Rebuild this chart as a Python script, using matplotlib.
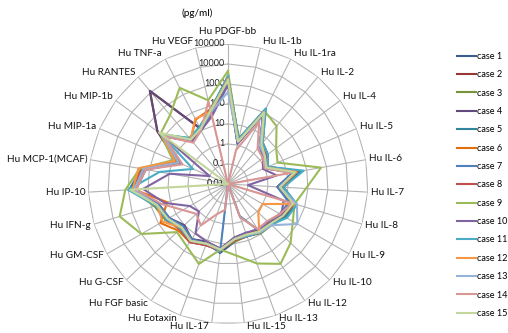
import numpy as np
import matplotlib
matplotlib.use("Agg")
import matplotlib.pyplot as plt
from matplotlib.lines import Line2D
from matplotlib.transforms import offset_copy

plt.rcParams["font.family"] = ["Lato", "DejaVu Sans"]

# ---------------------------------------------------------------
# data (pg/ml)
# ---------------------------------------------------------------
categories = ["Hu PDGF-bb", "Hu IL-1b", "Hu IL-1ra", "Hu IL-2", "Hu IL-4", "Hu IL-5",
              "Hu IL-6", "Hu IL-7", "Hu IL-8", "Hu IL-9", "Hu IL-10", "Hu IL-12",
              "Hu IL-13", "Hu IL-15", "Hu IL-17", "Hu Eotaxin", "Hu FGF basic",
              "Hu G-CSF", "Hu GM-CSF", "Hu IFN-g", "Hu IP-10", "Hu MCP-1(MCAF)",
              "Hu MIP-1a", "Hu MIP-1b", "Hu RANTES", "Hu TNF-a", "Hu VEGF"]

radial_ticks = [0.01, 0.1, 1, 10, 100, 1000, 10000, 100000]
radial_labels = ["0.01", "0.1", "1", "10", "100", "1000", "10000", "100000"]

case_1 = [1800, 1.8, 90, 3, 2, 1, 20, 3, 20, 12, 7, 6, 5, 8, 30, 12, 20, 12, 25, 40, 500, 180, 4, 100, 6, 10, 40]
case_2 = [2500, 2, 110, 4, 2.5, 1.5, 30, 5, 30, 18, 9, 8, 6, 7, 22, 18, 30, 18, 35, 60, 700, 250, 6, 250, 12000, 13, 60]
case_3 = [2000, 2.2, 130, 5, 3, 1.5, 35, 6, 35, 20, 10, 9, 6, 8, 20, 15, 25, 20, 40, 70, 700, 250, 8, 130, 10, 15, 70]
case_4 = [1200, 1.2, 80, 3, 1.5, 1, 20, 3, 18, 10, 6, 6, 4, 5, 18, 12, 20, 10, 25, 40, 400, 150, 4, 250, 12000, 13, 40]
case_5 = [2200, 2, 160, 5, 3, 1.5, 50, 6, 40, 20, 9, 8, 6, 6, 20, 15, 25, 18, 35, 50, 900, 250, 6, 140, 8, 15, 60]
case_6 = [1500, 1.5, 120, 4, 2, 1.2, 30, 4, 25, 15, 8, 7, 5, 6, 20, 15, 30, 25, 80, 15, 500, 300, 6, 120, 8, 40, 70]
case_7 = [1000, 1.2, 90, 3, 2, 1, 20, 3, 15, 10, 6, 6, 0.5, 0.01, 28, 15, 20, 12, 25, 40, 500, 150, 4, 100, 6, 10, 40]
case_8 = [1800, 1.8, 110, 4, 2.5, 1.2, 30, 5, 30, 15, 8, 8, 6, 7, 22, 18, 30, 20, 35, 55, 600, 220, 5, 120, 8, 12, 50]
case_9 = [4500, 1.8, 120, 60, 10, 5, 530, 80, 30, 55, 200, 600, 170, 40, 20, 180, 55, 32, 1000, 4500, 1400, 300, 10, 160, 320, 2400, 200]
case_10 = [900, 1.2, 80, 3, 1.5, 0.8, 3, 0.1, 8, 12, 6, 5, 4, 5, 18, 12, 9, 1, 1.6, 20, 180, 9, 0.1, 100, 6, 10, 30]
case_11 = [2500, 2, 170, 5, 3, 1.5, 70, 6, 40, 25, 9, 8, 6, 6, 22, 15, 25, 18, 35, 60, 1000, 30, 0.8, 150, 10, 15, 60]
case_12 = [1800, 1.5, 110, 4, 2, 1.2, 30, 4, 30, 1, 1.2, 7, 5, 6, 20, 15, 25, 15, 60, 50, 600, 350, 8, 120, 8, 45, 50]
case_13 = [400, 1.5, 90, 3, 2, 1, 25, 4, 40, 100, 10, 8, 5, 6, 20, 15, 25, 15, 30, 50, 500, 200, 5, 120, 8, 12, 50]
case_14 = [0.01, 0.56, 30, 2, 1.5, 1, 15, 0.01, 22, 10, 5, 5, 0.6, 0.01, 0.2, 0.4, 3, 1.5, 4, 30, 400, 150, 3, 100, 5, 10, 180]
case_15 = [1500, 1.5, 100, 4, 2, 1.2, 25, 4, 25, 15, 8, 7, 5, 6, 20, 15, 25, 15, 30, 50, 800, 0.01, 0.01, 200, 8, 12, 60]

cases = [case_1, case_2, case_3, case_4, case_5, case_6, case_7, case_8,
         case_9, case_10, case_11, case_12, case_13, case_14, case_15]
case_names = ["case %d" % (i + 1) for i in range(len(cases))]
colors = ["#3B5E8C", "#953735", "#77933C", "#604A7B", "#31859C", "#E46C0A",
          "#4F81BD", "#C0504D", "#9BBB59", "#8064A2", "#4BACC6", "#F79646",
          "#95B3D7", "#D99694", "#C3D69B"]

# ---------------------------------------------------------------
# figure
# ---------------------------------------------------------------
W, H = 508, 333
fig = plt.figure(figsize=(W / 100, H / 100), dpi=100)
cx, cy, R = 228, 184, 140
ax = fig.add_axes([(cx - R) / W, (H - cy - R) / H, 2 * R / W, 2 * R / H], polar=True)
ax.set_theta_zero_location("N")
ax.set_theta_direction(-1)
ax.set_ylim(0, 7)
ax.grid(False)
ax.set_xticks([])
ax.set_yticks([])
ax.spines["polar"].set_visible(False)
ax.patch.set_alpha(0)

n = len(categories)
theta = np.arange(n) * 2 * np.pi / n
theta_c = np.append(theta, theta[0])

def to_r(v):
    return np.log10(np.asarray(v, dtype=float)) - np.log10(radial_ticks[0])

# polygon gridlines + spokes
grid_col = "#B3B3B3"
for t in radial_ticks[1:]:
    ax.plot(theta_c, np.full(n + 1, to_r(t)), color=grid_col, lw=0.8, zorder=1)
for th in theta:
    ax.plot([th, th], [0, to_r(radial_ticks[-1])], color=grid_col, lw=0.8, zorder=1)

# series
for vals, name, col in zip(cases, case_names, colors):
    r = to_r(vals)
    ax.plot(theta_c, np.append(r, r[0]), color=col, lw=1.5, label=name, zorder=3)

# radial tick labels, just left of the top spoke
lab_tr = offset_copy(ax.transData, fig=fig, x=-3, y=0, units="dots")
for t, lab in zip(radial_ticks, radial_labels):
    ax.text(0, to_r(t), lab, transform=lab_tr, ha="right", va="center",
            fontsize=6.5, color="#222222", zorder=2)

# category labels, placed at the outer ring corner with a small pixel offset
r_out = to_r(radial_ticks[-1])
for th, lab in zip(theta, categories):
    s, c = np.sin(th), np.cos(th)
    if abs(s) < 0.05:
        ha, dx, dy = "center", 0, 12
    else:
        ha = "left" if s > 0 else "right"
        dx = 3 if s > 0 else -3
        dy = 6 * c if c > 0 else 3.5 * c
    tr = offset_copy(ax.transData, fig=fig, x=dx, y=dy, units="dots")
    ax.text(th, r_out, lab, transform=tr, ha=ha, va="center", fontsize=7.2,
            color="#111111")

fig.text(197 / W, 1 - 13 / H, "(pg/ml)", ha="center", va="center", fontsize=7.2)

handles = [Line2D([0], [0], color=c, lw=1.5) for c in colors]
fig.legend(handles, case_names, loc="upper left", bbox_to_anchor=(457 / W, 1 - 52 / H),
           frameon=False, fontsize=6.6, handlelength=2.05, handletextpad=0.1,
           labelspacing=1.02, borderaxespad=0, borderpad=0)

fig.savefig("out.png", dpi=100)
